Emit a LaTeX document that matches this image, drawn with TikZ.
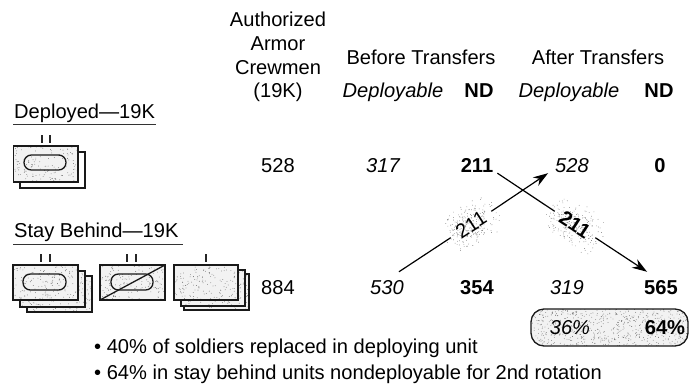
\documentclass[tikz,border=0pt]{standalone}
\usepackage{fontspec}
\setmainfont{Liberation Sans}
\usetikzlibrary{arrows.meta,calc}
\tikzset{
  txt/.style={font=\fontsize{20.1}{22}\selectfont,inner sep=0pt,anchor=base,text depth=0pt},
  ital/.style={txt,font=\fontsize{20.1}{22}\selectfont\itshape},
  bld/.style={txt,font=\fontsize{20.1}{22}\selectfont\bfseries},
  rulel/.style={line width=1pt,black!80},
  iconframe/.style={draw=black!90,line width=1.3pt},
  ticks/.style={line width=1.6pt,black!85},
  conn/.style={line width=1.2pt,black},
  arrowline/.style={conn,-{Stealth[length=15pt,width=10pt]}},
  dotc/.style={fill=black!60},
  tilted/.style={inner sep=0pt,minimum width=48pt,minimum height=18pt}
}
\newcommand{\stip}[5]{%
  \fill[black!5] (#1,#2) rectangle (#3,#4);
  \foreach \i in {1,...,#5}{%
    \pgfmathsetmacro\sx{#1+rnd*(#3-#1)}%
    \pgfmathsetmacro\sy{#2+rnd*(#4-#2)}%
    \fill[dotc] (\sx,\sy) circle (0.4);}}
\newcommand{\stipbox}[5]{%
  \fill[white] (#1,#2) rectangle (#3,#4);
  \stip{#1}{#2}{#3}{#4}{#5}
  \draw[iconframe] (#1,#2) rectangle (#3,#4);}
\newcommand{\whitebox}[4]{\draw[iconframe,fill=white] (#1,#2) rectangle (#3,#4);}
\newcommand{\blob}[4]{% cx, cy, angle, count
  \begin{scope}[shift={(#1,#2)},rotate=#3]
    \foreach \i in {1,...,#4}{%
      \pgfmathsetmacro\sx{32*(rnd+rnd-1)}%
      \pgfmathsetmacro\sy{23*(rnd+rnd-1)}%
      \fill[dotc] (\sx,\sy) circle (0.4);}
  \end{scope}}
\newcommand{\ovalshape}[4]{\draw[iconframe,rounded corners=7.4pt] (#1,#2) rectangle (#3,#4);}
\begin{document}
\begin{tikzpicture}[x=1pt,y=-1pt]
\pgfmathsetseed{4242}
\useasboundingbox (0,0) rectangle (690,386);
\fill[white] (0,0) rectangle (690,386);
% left labels
\coordinate (r1a) at (13,124); \coordinate (r1b) at (156,124);
\coordinate (r2a) at (13,244); \coordinate (r2b) at (183,244);
\node[txt,anchor=base west] (dep) at (14,118) {Deployed—19K};
\draw[rulel] (r1a) -- (r1b);
\node[txt,anchor=base west] (stay) at (14,237) {Stay Behind—19K};
\draw[rulel] (r2a) -- (r2b);
% deployed icon
\whitebox{20}{152}{85}{188}
\stipbox{13.5}{146}{78}{182}{150}
\ovalshape{24}{155}{66}{170}
\draw[ticks] (42,135) -- (42,143) (50,135) -- (50,143);
% stay behind icon 1
\stipbox{27}{276}{92}{312}{150}
\stipbox{20}{271}{85}{307}{150}
\stipbox{13}{265}{78}{300}{150}
\ovalshape{23}{274}{66}{290}
\draw[ticks] (41,254) -- (41,262) (50,254) -- (50,262);
% icon 2
\stipbox{100}{265}{165}{300}{150}
\ovalshape{111}{274}{153}{290}
\draw[iconframe] (100,300) -- (165,265);
\draw[ticks] (127,254) -- (127,262) (136,254) -- (136,262);
% icon 3
\stipbox{184}{274}{249}{310}{150}
\stipbox{181}{270}{245}{306}{150}
\stipbox{174}{265}{238}{300}{150}
\draw[ticks] (206,254) -- (206,262);
% headers
\node[txt] (h1) at (278,26) {Authorized};
\node[txt] (h2) at (278,50) {Armor};
\node[txt] (h3) at (278,74) {Crewmen};
\node[txt] (h4) at (278,97) {(19K)};
\node[txt] (bt) at (421,64) {Before Transfers};
\node[txt] (aft) at (598,64) {After Transfers};
\node[ital] (d1) at (393,97) {Deployable};
\node[bld] (nd1) at (479,97) {ND};
\node[ital] (d2) at (569,97) {Deployable};
\node[bld] (nd2) at (659,97) {ND};
% rows
\node[txt] (a528) at (278,172) {528};
\node[ital] (n317) at (383,172) {317};
\node[bld] (n211) at (477,172) {211};
\node[ital] (n528) at (572,172) {528};
\node[bld] (n0) at (660,172) {0};
\node[txt] (a884) at (278,294) {884};
\node[ital] (n530) at (387,294) {530};
\node[bld] (n354) at (477,294) {354};
\node[ital] (n319) at (567,294) {319};
\node[bld] (n565) at (661,294) {565};
% transfer labels
\blob{471}{224}{33}{230}
\blob{575}{224}{-33}{230}
\node[tilted,rotate=33,font=\fontsize{20.1}{22}\selectfont] (l1) at (471,224.5) {211};
\node[tilted,rotate=-33,font=\fontsize{20.1}{22}\selectfont\bfseries] (l2) at (575,224.5) {211};
\draw[conn] ($(n530.north east)+(-5,-8)$) -- (l1.west);
\draw[arrowline] (l1.east) -- ($(n528.south west)+(-7,1)$);
\draw[conn] ($(n211.south east)+(4,1)$) -- (l2.west);
\draw[arrowline] (l2.east) -- ($(n565.north west)+(3,-8)$);
% pill
\begin{scope}
  \clip[rounded corners=13pt] (531,309) rectangle (688,346);
  \stip{531}{309}{688}{346}{620}
\end{scope}
\draw[iconframe,rounded corners=13pt] (531,309) rectangle (688,346);
\node[ital] (p36) at (570,334.5) {36\%};
\node[bld] (p64) at (665,334.5) {64\%};
% bullets
\node[txt,anchor=base west] (b1) at (94,353) {• 40\% of soldiers replaced in deploying unit};
\node[txt,anchor=base west] (b2) at (94,379) {• 64\% in stay behind units nondeployable for 2nd rotation};
\end{tikzpicture}
\end{document}
